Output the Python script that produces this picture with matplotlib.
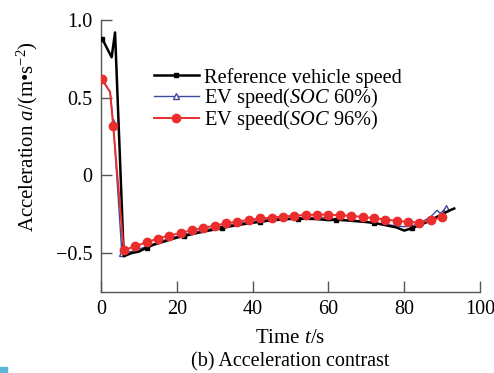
import matplotlib
matplotlib.use("Agg")
import matplotlib.pyplot as plt
from matplotlib.patches import Rectangle

plt.rcParams['font.family'] = ['Liberation Serif', 'DejaVu Serif']
plt.rcParams['mathtext.fontset'] = 'custom'
plt.rcParams['mathtext.rm'] = 'Liberation Serif'
plt.rcParams['mathtext.it'] = 'Liberation Serif:italic'

# reference vehicle
t_ref = [0.3, 2.8, 3.7, 6, 8, 10, 12, 14, 16, 18, 20, 22, 24, 26, 28, 30, 32, 34, 36, 38,
         40, 42, 44, 46, 48, 50, 52, 54, 56, 58, 60, 62, 64, 66, 68, 70, 72, 74, 76, 78,
         80, 82, 84, 86, 88, 90, 92, 93.2]
a_ref = [0.88, 0.76, 0.92, -0.52, -0.50, -0.49, -0.465, -0.445, -0.43, -0.415, -0.40,
         -0.39, -0.378, -0.367, -0.357, -0.348, -0.338, -0.328, -0.32, -0.312, -0.305,
         -0.298, -0.292, -0.287, -0.283, -0.28, -0.279, -0.279, -0.28, -0.283, -0.288,
         -0.285, -0.288, -0.292, -0.296, -0.30, -0.305, -0.315, -0.325, -0.335, -0.355,
         -0.34, -0.32, -0.30, -0.275, -0.25, -0.225, -0.213]
ref_marks = [0, 6, 11, 16, 21, 26, 31, 36, 41]

# EV, SOC 60%
t_60 = [0.3, 2.4, 3.2, 5.5, 8, 10, 14, 18, 22, 26, 30, 34, 38, 42, 46, 50, 54, 58, 62,
        64, 66, 68, 70, 72, 74, 76, 78, 80, 82, 84, 86, 87, 88.7, 89.5, 91, 91.6]
a_60 = [0.61, 0.54, 0.345, -0.50, -0.49, -0.475, -0.44, -0.405, -0.38, -0.358, -0.338,
        -0.318, -0.302, -0.29, -0.28, -0.275, -0.272, -0.272, -0.28, -0.29, -0.285,
        -0.292, -0.30, -0.31, -0.31, -0.318, -0.325, -0.33, -0.325, -0.31, -0.28, -0.265,
        -0.224, -0.245, -0.21, -0.23]
marks_60 = [2, 3, 34]

# EV, SOC 96%
t_96 = [0.3, 2.4, 3.2, 6, 9, 12, 15, 18, 21, 24, 27, 30, 33, 36, 39, 42, 45, 48, 51, 54,
        57, 60, 63, 66, 69, 72, 75, 78, 81, 84, 87, 90]
a_96 = [0.62, 0.535, 0.32, -0.48, -0.456, -0.43, -0.406, -0.387, -0.37, -0.353, -0.338,
        -0.323, -0.308, -0.297, -0.286, -0.277, -0.271, -0.265, -0.259, -0.254, -0.252,
        -0.252, -0.257, -0.26, -0.267, -0.275, -0.284, -0.292, -0.299, -0.303, -0.29,
        -0.268]
marks_96 = [0] + list(range(2, len(t_96)))

fig = plt.figure(figsize=(4.94, 3.73), dpi=100)
ax = fig.add_axes([0.2045, 0.2172, 0.7672, 0.7292])

l60, = ax.plot(t_60, a_60, color='#3c4b9e', lw=1.0, marker='^', ms=5, mfc='white',
               mec='#3c4b9e', mew=1.0, markevery=marks_60, zorder=2)
lref, = ax.plot(t_ref, a_ref, color='black', lw=1.8, marker='s', ms=3.5,
                markevery=ref_marks, zorder=3)
l96, = ax.plot(t_96, a_96, color='#ec2d2d', lw=1.4, marker='o', ms=6,
               markevery=marks_96, zorder=4)

ax.set_xlim(0, 100)
ax.set_ylim(-0.75, 1.0)
ax.set_xticks([0, 20, 40, 60, 80, 100])
ax.set_yticks([-0.5, 0, 0.5, 1.0])
ax.set_yticklabels(['\u22120.5', '0', '0.5', '1.0'])
ax.spines['top'].set_visible(False)
ax.spines['right'].set_visible(False)
for s in ['left', 'bottom']:
    ax.spines[s].set_color('#555555')
    ax.spines[s].set_linewidth(1.0)
ax.tick_params(direction='in', length=8, width=1.0, color='#555555',
               labelsize=14.5, pad=6)

ax.set_xlabel('Time $t$/s', fontsize=15, labelpad=7)
ax.set_ylabel('Acceleration $a$/(m\u2022s$^{-2}$)', fontsize=15)
ax.yaxis.set_label_coords(-0.16, 0.57)

ax.legend([lref, l60, l96],
          ['Reference vehicle speed', 'EV speed($SOC$ 60%)', 'EV speed($SOC$ 96%)'],
          loc='upper left', bbox_to_anchor=(0.118, 0.855), frameon=False,
          fontsize=14.7, handlelength=2.2, handletextpad=0.25, labelspacing=-0.08,
          borderaxespad=0)

fig.text(0.587, 0.03, '(b) Acceleration contrast', ha='center', va='center',
         fontsize=14.5)
fig.patches.append(Rectangle((0, 0), 0.014, 0.015, transform=fig.transFigure,
                             color='#5bb8d8', zorder=0))

fig.savefig('out.png', dpi=100)
